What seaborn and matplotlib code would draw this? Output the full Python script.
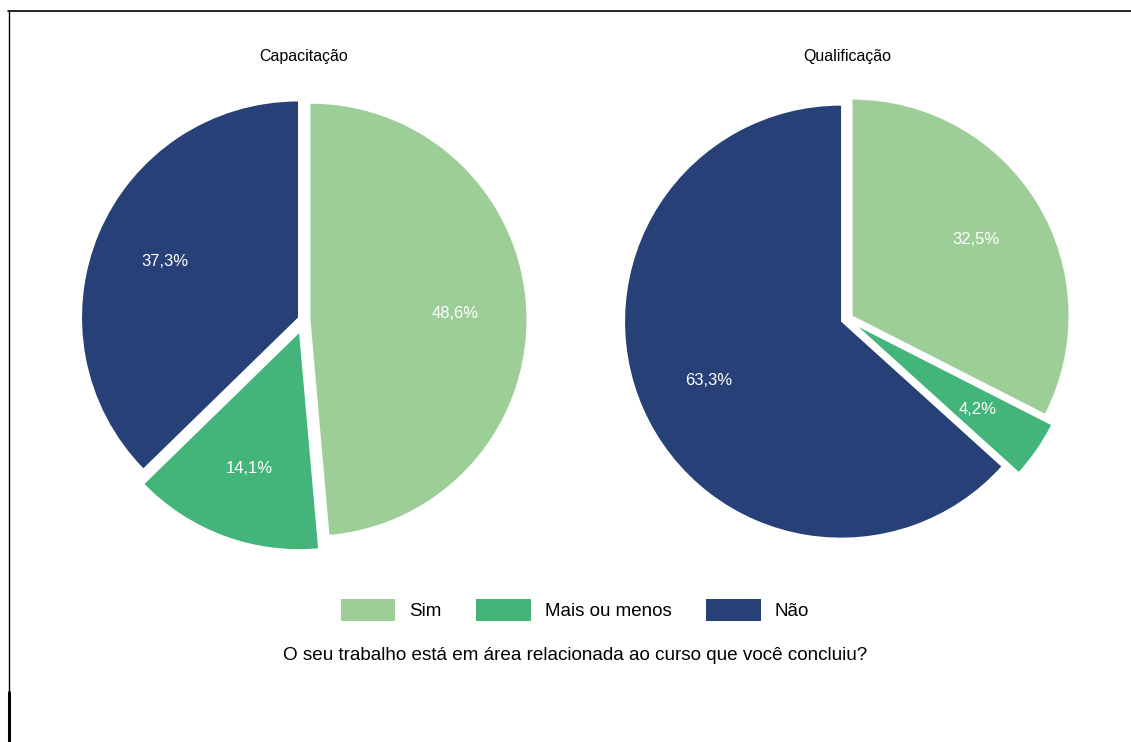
import matplotlib
matplotlib.use("Agg")
import matplotlib.pyplot as plt
from matplotlib.lines import Line2D
from matplotlib.patches import Patch
import seaborn as sns

categories = ["Sim", "Mais ou menos", "Não"]
capacitacao = [48.6, 14.1, 37.3]
qualificacao = [32.5, 4.2, 63.3]
titles = ["Capacitação", "Qualificação"]
caption = "O seu trabalho está em área relacionada ao curso que você concluiu?"
colors = sns.color_palette(["#9DCE98", "#43B57A", "#284078"])

sns.set_theme(style="white")
plt.rcParams["font.family"] = ["Liberation Sans", "DejaVu Sans"]
plt.rcParams["text.color"] = "black"

W, H = 1131, 742
fig = plt.figure(figsize=(W / 100, H / 100), dpi=100)
fig.patch.set_facecolor("white")

R = 216
half = 1.25 * R


def add_pie(cx, cy, values, title):
    ax = fig.add_axes([(cx - half) / W, (H - cy - half) / H, 2 * half / W, 2 * half / H])
    ax.pie(values, colors=colors, startangle=90, counterclock=False,
           explode=[0.03, 0.065, 0.03], pctdistance=0.67,
           autopct=lambda p: f"{p:.1f}%".replace(".", ","),
           textprops=dict(color="white", fontsize=12),
           wedgeprops=dict(linewidth=0))
    ax.set_xlim(-1.25, 1.25)
    ax.set_ylim(-1.25, 1.25)
    ax.set_aspect("equal")
    ax.axis("off")
    fig.text(cx / W, 1 - 57 / H, title, ha="center", va="center", fontsize=11.5, color="black")


add_pie(304, 320, capacitacao, titles[0])
add_pie(847, 319, qualificacao, titles[1])

handles = [Patch(facecolor=c, edgecolor="none", label=l) for c, l in zip(colors, categories)]
leg = fig.legend(handles=handles, loc="center", bbox_to_anchor=(575 / W, 1 - 610 / H),
                 ncol=3, frameon=False, fontsize=13.5, handlelength=2.9, handleheight=1.4,
                 handletextpad=0.75, columnspacing=1.85)
for t in leg.get_texts():
    t.set_color("black")
fig.text(575.5 / W, 1 - 655 / H, caption, ha="center", va="center", fontsize=13.6, color="black")

# frame artifacts
fig.add_artist(Line2D([8 / W, 1], [1 - 11 / H, 1 - 11 / H], color="black", lw=1.2))
fig.add_artist(Line2D([8.5 / W, 8.5 / W], [1 - 11 / H, 0], color="black", lw=1.0))
fig.add_artist(Line2D([9 / W, 9 / W], [1 - 692 / H, 0], color="black", lw=2.2))

fig.savefig("out.png", dpi=100, facecolor="white")
